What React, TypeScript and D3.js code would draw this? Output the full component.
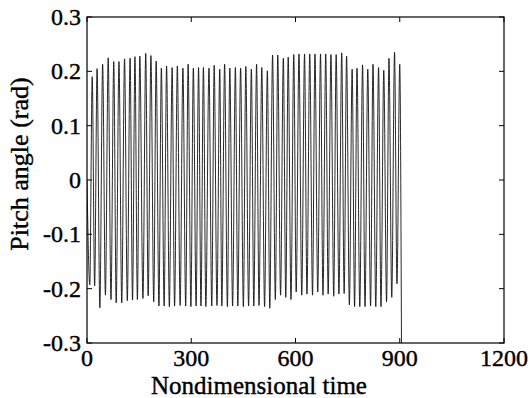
import React from "react";
import * as d3 from "d3";

// peaks and troughs
const peakT = [15, 29, 45, 61, 77, 92, 108, 124, 138, 152, 169, 184, 199, 214, 229, 245, 260, 276, 291, 306, 321, 335, 351, 366, 382, 396, 411, 427, 442, 457, 473, 488, 503, 519, 534, 549, 565, 579, 595, 610, 626, 641, 656, 672, 687, 702, 717, 733, 747, 763, 777, 793, 808, 823, 839, 854, 869, 885, 900];
const peakV = [0.190, 0.205, 0.213, 0.225, 0.218, 0.218, 0.223, 0.224, 0.227, 0.228, 0.233, 0.229, 0.219, 0.206, 0.210, 0.207, 0.210, 0.206, 0.213, 0.206, 0.207, 0.207, 0.206, 0.211, 0.204, 0.213, 0.206, 0.207, 0.206, 0.209, 0.204, 0.213, 0.207, 0.201, 0.230, 0.230, 0.224, 0.226, 0.231, 0.232, 0.232, 0.232, 0.232, 0.232, 0.232, 0.231, 0.231, 0.234, 0.228, 0.204, 0.206, 0.212, 0.204, 0.213, 0.207, 0.202, 0.224, 0.235, 0.213];
const troughT = [8, 22, 37, 53, 69, 84, 100, 116, 131, 145, 161, 176, 192, 207, 222, 237, 252, 268, 284, 299, 314, 328, 342, 359, 374, 388, 404, 419, 434, 450, 465, 480, 495, 511, 526, 542, 557, 572, 587, 602, 618, 633, 649, 664, 679, 694, 710, 725, 740, 755, 770, 785, 800, 816, 831, 846, 862, 877, 892];
const troughV = [-0.193, -0.195, -0.235, -0.212, -0.220, -0.226, -0.226, -0.222, -0.221, -0.220, -0.218, -0.213, -0.224, -0.232, -0.232, -0.233, -0.232, -0.231, -0.232, -0.233, -0.232, -0.232, -0.233, -0.232, -0.231, -0.232, -0.233, -0.232, -0.232, -0.233, -0.232, -0.232, -0.231, -0.233, -0.236, -0.220, -0.212, -0.216, -0.220, -0.206, -0.212, -0.210, -0.212, -0.206, -0.212, -0.210, -0.214, -0.210, -0.209, -0.230, -0.233, -0.233, -0.233, -0.232, -0.233, -0.233, -0.224, -0.216, -0.191];
const startPoint = { t: 0, v: 0 };
const endPoint = { t: 905, v: -0.3 };

const xTicks = [0, 300, 600, 900, 1200];
const yTicks = [-0.3, -0.2, -0.1, 0, 0.1, 0.2, 0.3];
const yTickLabels = ["-0.3", "-0.2", "-0.1", "0", "0.1", "0.2", "0.3"];

const W = 531;
const H = 398;
const left = 87, right = 504, top = 17, bottom = 343;
const font = "'Liberation Serif', 'Times New Roman', serif";

export default function App() {
  const x = d3.scaleLinear().domain([0, 1200]).range([left, right]);
  const y = d3.scaleLinear().domain([-0.3, 0.3]).range([bottom, top]);

  const pts: { t: number; v: number }[] = [startPoint];
  troughT.forEach((t, i) => {
    pts.push({ t, v: troughV[i] });
    pts.push({ t: peakT[i], v: peakV[i] });
  });
  pts.push(endPoint);

  const line = d3
    .line<{ t: number; v: number }>()
    .x((d) => x(d.t))
    .y((d) => y(d.v))
    .curve(d3.curveMonotoneX);

  const tick = 5;

  return (
    <svg width={W} height={H} style={{ position: "absolute", left: 0, top: 0, background: "#fff" }}>
      <defs>
        <clipPath id="plot">
          <rect x={left} y={top} width={right - left} height={bottom - top} />
        </clipPath>
      </defs>
      <rect x={0} y={0} width={W} height={H} fill="#fff" />
      <path d={line(pts) ?? ""} fill="none" stroke="#111" strokeWidth={0.9} clipPath="url(#plot)" />

      {/* frame */}
      <rect x={left} y={top} width={right - left} height={bottom - top} fill="none" stroke="#000" strokeWidth={1.2} />

      {xTicks.map((t) => (
        <g key={"x" + t}>
          <line x1={x(t)} x2={x(t)} y1={bottom} y2={bottom - tick} stroke="#000" />
          <line x1={x(t)} x2={x(t)} y1={top} y2={top + tick} stroke="#000" />
          <text x={x(t)} y={366} textAnchor="middle" fontFamily={font} fontSize={24} stroke="#000" strokeWidth={0.4}>
            {t}
          </text>
        </g>
      ))}

      {yTicks.map((v, i) => (
        <g key={"y" + v}>
          <line x1={left} x2={left + tick} y1={y(v)} y2={y(v)} stroke="#000" />
          <line x1={right} x2={right - tick} y1={y(v)} y2={y(v)} stroke="#000" />
          <text x={81} y={y(v) + 8} textAnchor="end" fontFamily={font} fontSize={24} stroke="#000" strokeWidth={0.4}>
            {yTickLabels[i]}
          </text>
        </g>
      ))}

      <text x={259} y={394} textAnchor="middle" fontFamily={font} fontSize={25} stroke="#000" strokeWidth={0.4}>
        Nondimensional time
      </text>
      <text
        transform="translate(28,164) rotate(-90)"
        textAnchor="middle"
        fontFamily={font}
        fontSize={26}
        stroke="#000"
        strokeWidth={0.4}
      >
        Pitch angle (rad)
      </text>
    </svg>
  );
}
